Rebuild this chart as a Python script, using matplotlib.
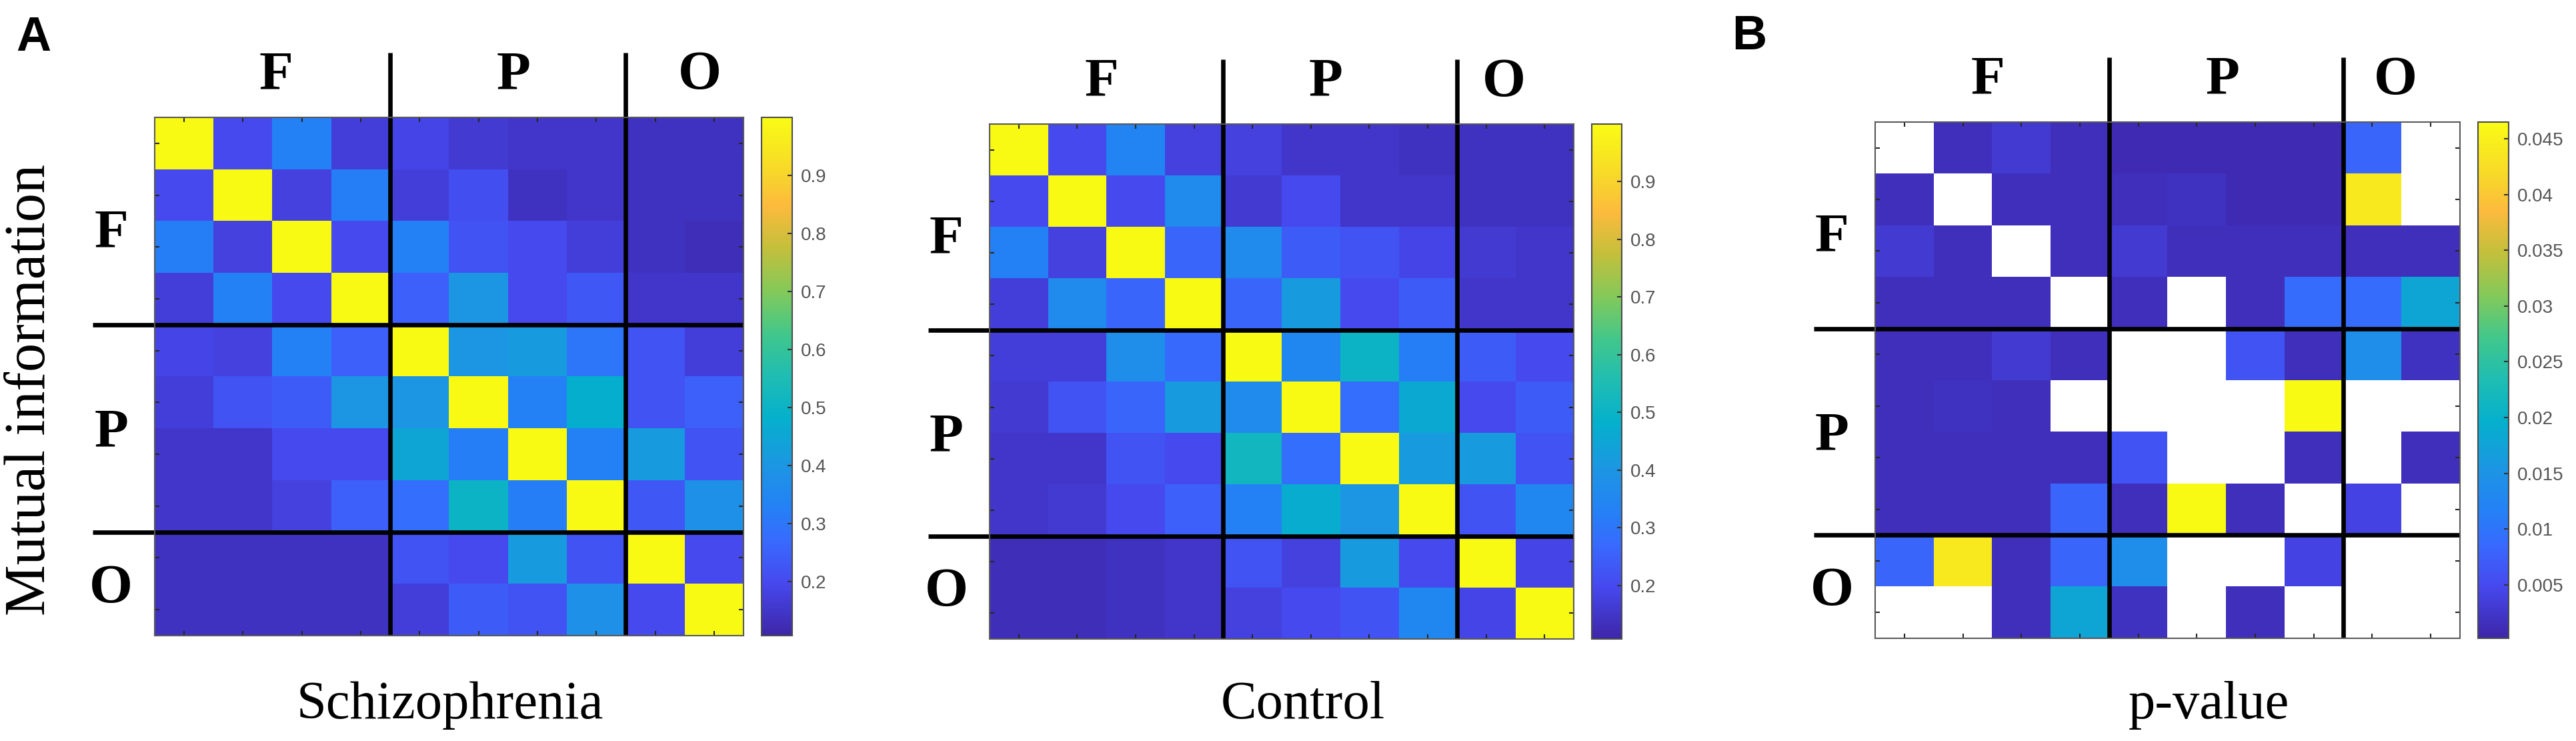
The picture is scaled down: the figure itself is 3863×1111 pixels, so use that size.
import numpy as np
import matplotlib.pyplot as plt
from matplotlib.colors import LinearSegmentedColormap

# channel groups: frontal, parietal, occipital
regions = ['F', 'P', 'O']
region_sizes = [4, 4, 2]

# mutual information, schizophrenia group
schizophrenia = [
    [1.00, 0.20, 0.33, 0.17, 0.19, 0.16, 0.15, 0.15, 0.14, 0.14],
    [0.20, 1.00, 0.18, 0.32, 0.17, 0.21, 0.14, 0.15, 0.14, 0.14],
    [0.32, 0.18, 1.00, 0.20, 0.33, 0.22, 0.20, 0.17, 0.14, 0.13],
    [0.17, 0.33, 0.20, 1.00, 0.25, 0.40, 0.20, 0.23, 0.15, 0.15],
    [0.19, 0.18, 0.33, 0.25, 1.00, 0.40, 0.42, 0.30, 0.22, 0.17],
    [0.17, 0.22, 0.24, 0.40, 0.40, 1.00, 0.33, 0.48, 0.22, 0.25],
    [0.15, 0.15, 0.20, 0.20, 0.45, 0.32, 1.00, 0.33, 0.42, 0.22],
    [0.15, 0.15, 0.18, 0.25, 0.28, 0.50, 0.32, 1.00, 0.23, 0.38],
    [0.14, 0.14, 0.14, 0.14, 0.22, 0.20, 0.42, 0.22, 1.00, 0.20],
    [0.14, 0.14, 0.14, 0.14, 0.17, 0.24, 0.22, 0.38, 0.20, 1.00],
]

# mutual information, control group
control = [
    [1.00, 0.20, 0.34, 0.18, 0.18, 0.15, 0.15, 0.14, 0.14, 0.14],
    [0.20, 1.00, 0.20, 0.36, 0.16, 0.20, 0.15, 0.15, 0.14, 0.14],
    [0.33, 0.18, 1.00, 0.26, 0.36, 0.24, 0.22, 0.19, 0.16, 0.15],
    [0.17, 0.36, 0.26, 1.00, 0.26, 0.42, 0.20, 0.24, 0.15, 0.15],
    [0.17, 0.17, 0.37, 0.27, 1.00, 0.35, 0.50, 0.32, 0.24, 0.20],
    [0.16, 0.22, 0.26, 0.42, 0.36, 1.00, 0.28, 0.46, 0.20, 0.24],
    [0.15, 0.15, 0.22, 0.20, 0.52, 0.28, 1.00, 0.42, 0.42, 0.22],
    [0.15, 0.16, 0.20, 0.25, 0.33, 0.47, 0.40, 1.00, 0.22, 0.35],
    [0.13, 0.13, 0.14, 0.15, 0.22, 0.18, 0.42, 0.20, 1.00, 0.19],
    [0.13, 0.13, 0.14, 0.15, 0.18, 0.20, 0.22, 0.35, 0.19, 1.00],
]

# p-values of the group difference (nan = not significant, drawn white)
nan = np.nan
pvalue = [
    [nan, 0.0015, 0.0030, 0.0015, 0.0010, 0.0010, 0.0010, 0.0010, 0.0080, nan],
    [0.0015, nan, 0.0015, 0.0015, 0.0015, 0.0020, 0.0010, 0.0010, 0.0440, nan],
    [0.0030, 0.0015, nan, 0.0015, 0.0030, 0.0015, 0.0015, 0.0015, 0.0015, 0.0015],
    [0.0015, 0.0015, 0.0015, nan, 0.0015, nan, 0.0015, 0.0090, 0.0090, 0.0180],
    [0.0015, 0.0015, 0.0030, 0.0015, nan, nan, 0.0060, 0.0015, 0.0140, 0.0020],
    [0.0015, 0.0020, 0.0015, nan, nan, nan, nan, 0.0465, nan, nan],
    [0.0015, 0.0015, 0.0015, 0.0015, 0.0060, nan, nan, 0.0015, nan, 0.0015],
    [0.0015, 0.0015, 0.0015, 0.0080, 0.0015, 0.0465, 0.0015, nan, 0.0040, nan],
    [0.0080, 0.0440, 0.0015, 0.0080, 0.0140, nan, nan, 0.0040, nan, nan],
    [nan, nan, 0.0015, 0.0180, 0.0020, nan, 0.0015, nan, nan, nan],
]

mi_ticks = [0.2, 0.3, 0.4, 0.5, 0.6, 0.7, 0.8, 0.9]
p_ticks = [0.005, 0.01, 0.015, 0.02, 0.025, 0.03, 0.035, 0.04, 0.045]

# MATLAB parula, approximated
parula_pts = [
    (0.00, (0.2422, 0.1504, 0.6603)),
    (0.10, (0.2760, 0.2840, 0.9350)),
    (0.18, (0.2200, 0.4150, 0.9950)),
    (0.25, (0.1400, 0.5100, 0.9600)),
    (0.33, (0.1100, 0.5900, 0.8900)),
    (0.42, (0.0200, 0.6900, 0.8000)),
    (0.50, (0.1200, 0.7400, 0.7000)),
    (0.58, (0.2500, 0.7800, 0.5500)),
    (0.66, (0.5000, 0.7900, 0.3600)),
    (0.75, (0.7700, 0.7500, 0.2300)),
    (0.83, (0.9900, 0.7300, 0.2400)),
    (0.90, (0.9700, 0.8500, 0.1600)),
    (1.00, (0.9769, 0.9839, 0.0805)),
]
parula = LinearSegmentedColormap.from_list('parula', parula_pts, N=256)
parula.set_bad('white')

plt.rcParams['font.family'] = ['Liberation Serif']

W, H = 3863, 1111
fig = plt.figure(figsize=(W / 100, H / 100), dpi=100)


def px_axes(x0, y0, x1, y1):
    return fig.add_axes([x0 / W, 1 - y1 / H, (x1 - x0) / W, (y1 - y0) / H])


# data, clim, ticks, xlabel, matrix box px, colorbar x px, top label x, xlabel centre px
panels = [
    (schizophrenia, (0.107, 1.0), mi_ticks, 'Schizophrenia',
     (232, 176, 1115, 953), (1142, 1188), [1.56, 5.59, 8.76], 675),
    (control, (0.107, 1.0), mi_ticks, 'Control',
     (1484, 186, 2360, 958), (2387, 2432), [1.42, 5.25, 8.3], 1954),
    (pvalue, (0.0002, 0.0465), p_ticks, 'p-value',
     (2812, 183, 3689, 957), (3716, 3762), [1.43, 5.44, 8.4], 3312),
]

bounds = np.cumsum(region_sizes)[:-1] - 0.5
n = sum(region_sizes)

for data, clim, ticks, label, box, cbx, top_x, lab_x in panels:
    x0, y0, x1, y1 = box
    ax = px_axes(x0, y0, x1, y1)
    M = np.array(data, dtype=float)
    im = ax.imshow(np.ma.masked_invalid(M), cmap=parula, vmin=clim[0], vmax=clim[1],
                   aspect='auto', interpolation='nearest')
    ax.set_xlim(-0.5, n - 0.5)
    ax.set_ylim(n - 0.5, -0.5)
    ax.set_xticks(np.arange(n))
    ax.set_yticks(np.arange(n))
    ax.tick_params(direction='in', length=5, width=1.5, color='0.15',
                   top=True, right=True, labelbottom=False, labelleft=False)
    for s in ax.spines.values():
        s.set_color('0.35')
        s.set_linewidth(1.5)

    # block separators
    for b in bounds:
        ax.plot([b, b], [-1.75, n - 0.5], color='black', lw=4.8, clip_on=False,
                solid_capstyle='butt')
        ax.plot([-1.55, n - 0.5], [b, b], color='black', lw=4.8, clip_on=False,
                solid_capstyle='butt')

    # region names
    left_y = [1.75, 5.6, 8.6]
    for name, tx, ly in zip(regions, top_x, left_y):
        ax.text(tx, -1.3, name, ha='center', va='center', fontsize=60,
                fontweight='bold', clip_on=False)
        ax.text(-1.24, ly, name, ha='center', va='center', fontsize=60,
                fontweight='bold', clip_on=False)

    fig.text(lab_x / W, 1 - 1058 / H, label, ha='center', va='center', fontsize=58)

    cax = px_axes(cbx[0], y0, cbx[1], y1)
    cb = fig.colorbar(im, cax=cax, ticks=ticks)
    cb.ax.set_yticklabels([f'{t:g}' for t in ticks], family='Liberation Sans')
    cb.ax.tick_params(direction='in', length=5, width=1.5, color='0.2',
                      labelsize=20, labelcolor='#555555', pad=9)
    cb.outline.set_edgecolor('0.3')
    cb.outline.set_linewidth(1.5)

fig.text(46 / W, 1 - 585 / H, 'Mutual information', rotation=90,
         ha='center', va='center', fontsize=62)
fig.text(50 / W, 1 - 57 / H, 'A', ha='center', va='center', fontsize=52,
         fontweight='bold', family='Liberation Sans')
fig.text(2623 / W, 1 - 55 / H, 'B', ha='center', va='center', fontsize=52,
         fontweight='bold', family='Liberation Sans')

fig.savefig('out.png', dpi=100, facecolor='white')
